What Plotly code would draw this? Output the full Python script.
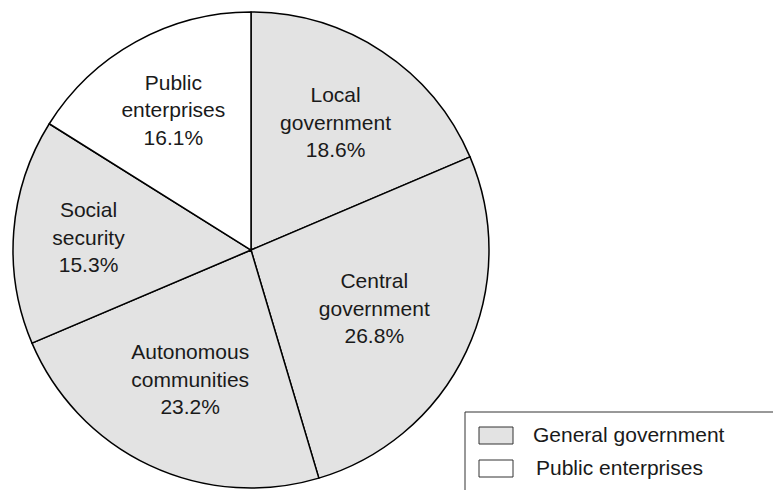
import plotly.graph_objects as go

# slices, clockwise from 12 o'clock
labels = ["Local<br>government", "Central<br>government", "Autonomous<br>communities",
          "Social<br>security", "Public<br>enterprises"]
shares = [18.6, 26.8, 23.2, 15.3, 16.1]
groups = ["General government", "General government", "General government",
          "General government", "Public enterprises"]

legend_names = ["General government", "Public enterprises"]
group_colors = {"General government": "#e3e3e3", "Public enterprises": "#ffffff"}

FONT = "Liberation Sans, Arial, sans-serif"
W, H = 781, 490

fig = go.Figure()
fig.add_trace(
    go.Pie(
        labels=labels,
        values=shares,
        sort=False,
        direction="clockwise",
        rotation=0,
        marker=dict(colors=[group_colors[g] for g in groups],
                    line=dict(color="#000000", width=1.5)),
        texttemplate="%{label}<br>%{value:.1f}%",
        textposition="inside",
        insidetextorientation="horizontal",
        textfont=dict(family=FONT, size=21, color="#1a1a1a"),
        showlegend=False,
        hoverinfo="label+value",
        domain=dict(x=[0.0064, 0.6159], y=[0.0204, 0.9918]),
    )
)

# hand-drawn legend box, bottom right (page body adds 8px offset)
shapes = [dict(type="rect", xref="paper", yref="paper",
               x0=457 / W, x1=1.05, y0=-0.05, y1=1 - 404 / H,
               line=dict(color="#333333", width=1), fillcolor="white")]
annotations = []
for i, name in enumerate(legend_names):
    top = 419 + i * 33
    shapes.append(dict(type="rect", xref="paper", yref="paper",
                       x0=471 / W, x1=505 / W,
                       y0=1 - (top + 17) / H, y1=1 - top / H,
                       line=dict(color="#333333", width=1),
                       fillcolor=group_colors[name]))
    annotations.append(dict(xref="paper", yref="paper",
                            x=(523 + 3 * i) / W, y=1 - (top + 7) / H,
                            xanchor="left", yanchor="middle", showarrow=False,
                            text=name, font=dict(family=FONT, size=21, color="#1a1a1a")))

fig.update_layout(
    width=W,
    height=H,
    margin=dict(l=0, r=0, t=0, b=0),
    paper_bgcolor="white",
    plot_bgcolor="white",
    shapes=shapes,
    annotations=annotations,
)

fig.write_html("out.html")
